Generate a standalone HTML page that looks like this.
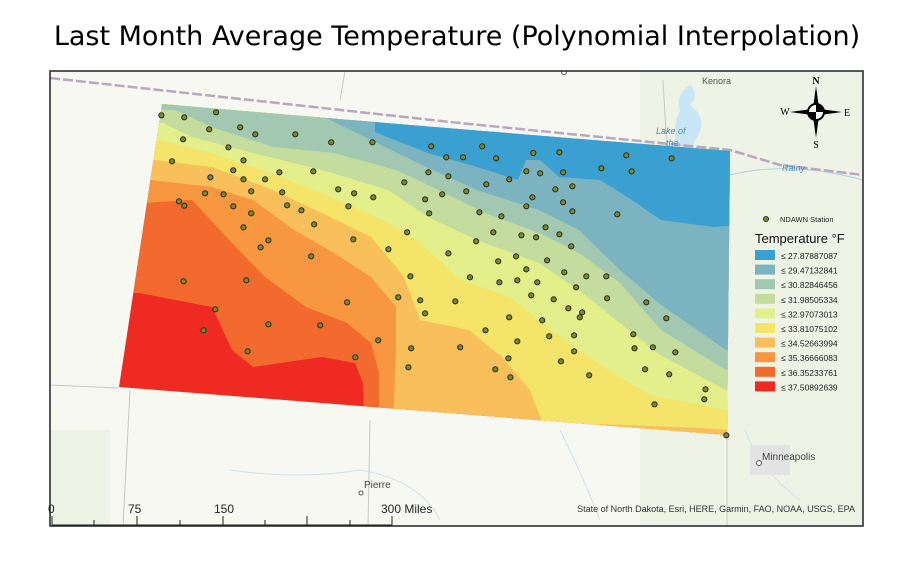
<!DOCTYPE html>
<html><head><meta charset="utf-8">
<style>
html,body{margin:0;padding:0;background:#fff;}
body{width:914px;height:559px;overflow:hidden;font-family:"Liberation Sans","DejaVu Sans",sans-serif;}
</style></head>
<body>
<svg width="914" height="559" viewBox="0 0 914 559" xmlns="http://www.w3.org/2000/svg">
<text x="457" y="45" text-anchor="middle" font-size="27" font-family="DejaVu Sans, Liberation Sans, sans-serif" fill="#000">Last Month Average Temperature (Polynomial Interpolation)</text>
<defs>
<clipPath id="frame"><rect x="50" y="71" width="813" height="455"/></clipPath>
<clipPath id="nd"><path d="M162,104 Q440,128 730,151 L727,435 L119,387 Z"/></clipPath>
</defs>
<g clip-path="url(#frame)">
<rect x="50" y="71" width="813" height="455" fill="#f8f8f3"/>
<rect x="640" y="71" width="223" height="455" fill="#eef3e6"/>
<rect x="50" y="430" width="60" height="100" fill="#eef3e6"/>
<path d="M690,85 Q700,95 690,105 Q710,120 695,140 Q690,150 700,155 L680,155 Q670,130 680,110 Q675,95 690,85Z" fill="#c8e6f5"/>
<path d="M730,175 Q790,160 863,180" stroke="#a9d3ea" fill="none"/>
<path d="M50,78 L450,122 L730,150 L780,165 L863,175" stroke="#b9a7bf" stroke-width="2.5" stroke-dasharray="10,3" fill="none"/>
<path d="M345,71 L340,100 M663,80 L667,150 M130,390 L123,526 M119,388 L50,385 M727,435 L727,526 M370,420 L368,526" stroke="#c8c8c8" fill="none"/>
<path d="M230,470 Q300,480 360,470 Q420,480 440,520 M560,430 Q580,470 600,520 M745,430 Q760,470 800,500" stroke="#cfe1ec" fill="none"/>
<rect x="750" y="445" width="40" height="30" fill="#e3e3e3"/>
<circle cx="564" cy="72" r="2.5" fill="#fff" stroke="#555"/>
<text x="702" y="84" font-size="9" fill="#555">Kenora</text>
<text x="656" y="134" font-size="9" font-style="italic" fill="#4a8fb3">Lake of</text>
<text x="666" y="146" font-size="9" font-style="italic" fill="#4a8fb3">the</text>
<text x="782" y="171" font-size="9" font-style="italic" fill="#4a8fb3">Rainy</text>
<circle cx="759" cy="463" r="2.5" fill="#fff" stroke="#555"/>
<text x="762" y="460" font-size="10" fill="#444">Minneapolis</text>
<circle cx="361" cy="493" r="2" fill="#fff" stroke="#555"/>
<text x="364" y="488" font-size="10" fill="#444">Pierre</text>
</g>
<g id="bands" clip-path="url(#nd)"></g>
<g id="stations"></g>
<rect x="50" y="71" width="813" height="455" fill="none" stroke="#222" stroke-width="1.5"/>
<g transform="translate(816,112)">
<polygon points="0,-26 3,-4 -3,-4" fill="#000"/><polygon points="0,26 3,4 -3,4" fill="#000"/>
<polygon points="-26,0 -4,3 -4,-3" fill="#000"/><polygon points="26,0 4,3 4,-3" fill="#000"/>
<circle r="8" fill="#fff" stroke="#000" stroke-width="2"/>
<path d="M0,0 L0,-8 A8,8 0 0 1 8,0Z M0,0 L0,8 A8,8 0 0 1 -8,0Z" fill="#000"/>
<text x="0" y="-28" text-anchor="middle" font-size="10" font-weight="bold" font-family="Liberation Serif,serif">N</text>
<text x="0" y="36" text-anchor="middle" font-size="10" font-family="Liberation Serif,serif">S</text>
<text x="-31" y="3" text-anchor="middle" font-size="10" font-family="Liberation Serif,serif">W</text>
<text x="31" y="4" text-anchor="middle" font-size="10" font-family="Liberation Serif,serif">E</text>
</g>
<g id="legend">
<circle cx="766" cy="219" r="2.5" fill="#7a8b2a" stroke="#333" stroke-width="1"/>
<text x="780" y="222" font-size="7.5" fill="#222">NDAWN Station</text>
<text x="755" y="243" font-size="13" fill="#111">Temperature  °F</text>
</g>
<g font-size="12" fill="#222">
<line x1="52" y1="525" x2="392" y2="525" stroke="#222"/>
<text x="48" y="513">0</text><text x="128" y="513">75</text><text x="214" y="513">150</text><text x="381" y="513">300 Miles</text>
</g>
<g id="ticks"></g>
<text x="855" y="512" text-anchor="end" font-size="9" fill="#333">State of North Dakota, Esri, HERE, Garmin, FAO, NOAA, USGS, EPA</text>
</svg>
<script>
const NS="http://www.w3.org/2000/svg";
const classBreaks=[27.87887087,29.47132841,30.82846456,31.98505334,32.97073013,33.81075102,34.52663994,35.36666083,36.35233761,37.50892639];
const classColors=["#3a9fd1","#7cb3c0","#a3c8b1","#c4dc9e","#e2ef8a","#f5e46a","#f9bf5a","#f7973f","#f26a2e","#ee2a23"];
// isotherm boundaries (map coords), warm to cool
const isoRed=[[100,293],[139,293],[212,307],[232,350],[253,367],[322,357],[355,363],[363,383],[365,445]];
const iso3635=[[100,203],[143,203],[192,200],[232,243],[265,277],[306,307],[347,323],[371,343],[379,373],[379,445]];
const iso3537=[[100,180],[151,180],[212,187],[253,200],[294,230],[334,253],[371,277],[396,307],[396,350],[392,445]];
const iso3453=[[100,160],[155,160],[212,167],[273,190],[330,217],[371,237],[404,277],[420,320],[469,330],[502,357],[530,390],[551,445]];
const iso3381=[[100,140],[158,140],[212,153],[281,177],[339,200],[388,223],[420,243],[461,280],[510,297],[551,330],[600,365],[650,395],[726,410],[760,410]];
const iso3297=[[100,123],[163,123],[192,137],[253,153],[322,170],[388,190],[428,217],[477,240],[539,263],[579,290],[620,323],[660,355],[726,390],[760,390]];
const iso3199=[[100,108],[175,110],[212,127],[273,147],[334,153],[396,170],[445,193],[485,213],[539,233],[579,253],[620,283],[661,330],[726,370],[760,370]];
const iso3083=[[100,92],[250,100],[310,110],[330,120],[375,142],[428,168],[477,190],[539,210],[579,230],[620,270],[661,305],[726,350],[760,350]];
const iso2947=[[375,100],[375,132],[428,153],[477,167],[518,180],[526,160],[540,160],[559,177],[600,180],[632,200],[661,220],[714,227],[760,223]];
const isolines=[isoRed,iso3635,iso3537,iso3453,iso3381,iso3297,iso3199,iso3083,iso2947];
// station positions in reference-grid units
const stationGX=[126,182,260,243,319,356,454,179,542,643,290,787,912,327,824,865,946,1037,1101,1265,1376,152,302,415,498,780,829,1020,1054,1110,1204,1278,246,327,380,721,922,978,559,598,645,422,233,278,346,814,873,1091,1133,1035,1110,1020,169,182,302,434,469,584,772,782,905,959,1133,1243,346,500,327,728,939,1008,1044,1067,1101,388,596,897,369,682,1130,493,829,951,995,1071,1020,1113,1167,1216,736,882,954,998,1047,1142,180,334,1032,1087,1218,1314,706,760,846,581,1123,1157,1151,258,772,978,1059,1363,229,388,515,920,1076,1137,1282,657,738,858,998,1285,1330,1385,337,601,976,1105,1137,731,944,981,1174,1311,1370,1459,1456,1334,1510];
const stationGY=[76,82,67,118,112,133,133,148,157,157,172,169,169,211,202,202,205,189,187,196,205,214,241,247,244,247,259,244,250,247,235,244,262,268,268,277,283,268,298,310,322,307,310,313,304,313,304,298,289,322,337,349,334,347,349,346,361,349,328,370,367,379,364,373,370,403,412,427,427,436,442,412,433,451,448,454,472,478,469,499,490,514,499,511,538,547,559,559,559,562,577,571,577,592,574,571,616,628,625,637,622,631,634,637,655,667,682,658,670,682,691,685,721,703,706,721,739,736,733,751,775,772,754,775,772,787,784,802,805,814,784,832,838,862,856,838,853,898,928,943,1036];
function sx(g){return g/2.45+110;}
function sy(g){return g/3+90;}

const bands=document.getElementById('bands');
const base=document.createElementNS(NS,'rect');
base.setAttribute('x',100);base.setAttribute('y',90);base.setAttribute('width',680);base.setAttribute('height',360);
base.setAttribute('fill',classColors[9]);


bands.appendChild(base);
isolines.forEach((line,i)=>{
  const last=line[line.length-1];
  let pts=line.map(p=>p.join(',')).join(' ');
  pts+=' '+(last[1]>=440?'780,'+last[1]+' ':'')+'780,90 100,90';
  const p=document.createElementNS(NS,'polygon');
  p.setAttribute('points',pts);
  p.setAttribute('fill',classColors[8-i]);
  
  
  bands.appendChild(p);
});
const patch=document.createElementNS(NS,'polygon');
patch.setAttribute('points','575,445 600,424 700,428 730,430 730,445');
patch.setAttribute('fill',classColors[6]);


bands.appendChild(patch);

const st=document.getElementById('stations');
stationGX.forEach((gx,i)=>{
  const c=document.createElementNS(NS,'circle');
  c.setAttribute('cx',sx(gx).toFixed(1));c.setAttribute('cy',sy(stationGY[i]).toFixed(1));
  c.setAttribute('r',2.6);c.setAttribute('fill','#7a8b2a');c.setAttribute('stroke','#2a2a1a');c.setAttribute('stroke-width',1);
  
  
  st.appendChild(c);
});

const lg=document.getElementById('legend');
classBreaks.forEach((b,i)=>{
  const y=250+i*14.6;
  const r=document.createElementNS(NS,'rect');
  r.setAttribute('x',755);r.setAttribute('y',y);r.setAttribute('width',20);r.setAttribute('height',10);
  r.setAttribute('fill',classColors[i]);
  
  
  lg.appendChild(r);
  const t=document.createElementNS(NS,'text');
  t.setAttribute('x',781);t.setAttribute('y',y+9);t.setAttribute('font-size','8.5');t.setAttribute('fill','#222');
  t.textContent='≤ '+b.toFixed(8);
  
  
  lg.appendChild(t);
});
const tk=document.getElementById('ticks');
[52,94,137,180,223,265,307,350,392].forEach((x,i)=>{
  const l=document.createElementNS(NS,'line');
  l.setAttribute('x1',x);l.setAttribute('x2',x);l.setAttribute('y1',i%2==0?516:520);l.setAttribute('y2',525);
  l.setAttribute('stroke','#222');
  
  
  tk.appendChild(l);
});
</script>
</body></html>
